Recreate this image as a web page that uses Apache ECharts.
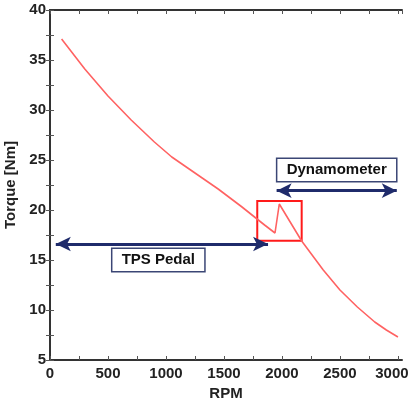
<!DOCTYPE html>
<html>
<head>
<meta charset="utf-8">
<script src="https://cdn.jsdelivr.net/npm/echarts@6/dist/echarts.min.js"></script>
<style>html,body{margin:0;padding:0;background:#fff}#c{width:412px;height:406px}</style>
</head>
<body>
<div id="c"></div>
<script>
// Data
const rpm    = [100, 300, 500, 700, 900, 1050, 1250, 1450, 1650, 1850, 1940, 1977, 2170, 2356, 2500, 2650, 2800, 2900, 3000];
const torque = [37.1, 34.1, 31.4, 29.0, 26.8, 25.3, 23.7, 22.1, 20.35, 18.5, 17.7, 20.6, 16.9, 14.0, 12.0, 10.3, 8.8, 8.0, 7.3];
const xTicks = [0, 500, 1000, 1500, 2000, 2500, 3000];
const yTicks = [5, 10, 15, 20, 25, 30, 35, 40];
// Annotations (data coordinates)
const highlightBox = { x: [1787, 2170], y: [16.93, 20.9] };
const tpsArrow = { x: [50, 1880], y: 16.6, label: 'TPS Pedal', box: { x: [532, 1336], y: [13.83, 16.17] } };
const dynoArrow = { x: [1954, 2990], y: 21.93, label: 'Dynamometer', box: { x: [1954, 2990], y: [22.83, 25.17] } };

const font = 'Liberation Sans, Arial, sans-serif';
const dark = '#222';
const navy = '#1f2b6b';
const axisCommon = {
  axisLine: { show: true, lineStyle: { color: '#333', width: 2 } },
  axisTick: { show: true, inside: true, length: 4, lineStyle: { color: '#555', width: 1 } },
  splitLine: { show: false }
};
const xBase = { type: 'value', min: 0, max: 3035, interval: 250 };
const yBase = { type: 'value', min: 5, max: 40, interval: 2.5 };

const chart = echarts.init(document.getElementById('c'));
chart.setOption({
  animation: false,
  backgroundColor: '#fff',
  grid: { left: 50, right: 10, top: 10, bottom: 46, containLabel: false, outerBoundsMode: 'none' },
  xAxis: [
    Object.assign({}, xBase, axisCommon, {
      position: 'bottom',
      name: 'RPM', nameLocation: 'middle', nameGap: 23,
      nameTextStyle: { fontFamily: font, fontWeight: 'bold', fontSize: 15, color: dark },
      axisLabel: { margin: 6, fontFamily: font, fontWeight: 'bold', fontSize: 15, color: dark, showMaxLabel: false,
        formatter: v => xTicks.indexOf(v) < 0 ? '' : (v === xTicks[xTicks.length - 1] ? '{r|' + v + '}' : String(v)),
        rich: { r: { fontFamily: font, fontWeight: 'bold', fontSize: 15, color: dark, padding: [0, 12, 0, 0] } } }
    }),
    Object.assign({}, xBase, axisCommon, { position: 'top', axisLabel: { show: false } })
  ],
  yAxis: [
    Object.assign({}, yBase, axisCommon, {
      position: 'left',
      name: 'Torque [Nm]', nameLocation: 'middle', nameGap: 25, nameRotate: 90,
      nameTextStyle: { fontFamily: font, fontWeight: 'bold', fontSize: 15, color: dark },
      axisLabel: { margin: 4, fontFamily: font, fontWeight: 'bold', fontSize: 15, color: dark,
        formatter: v => yTicks.indexOf(v) >= 0 ? String(v) : '' }
    }),
    Object.assign({}, yBase, axisCommon, { position: 'right', axisLabel: { show: false } })
  ],
  series: [
    {
      type: 'line',
      data: rpm.map((r, i) => [r, torque[i]]),
      showSymbol: false,
      lineStyle: { color: '#ff6262', width: 1.6 },
      markArea: {
        silent: true,
        itemStyle: { color: 'rgba(0,0,0,0)', borderColor: '#ff1a1a', borderWidth: 2 },
        data: [[{ coord: [highlightBox.x[0], highlightBox.y[1]] }, { coord: [highlightBox.x[1], highlightBox.y[0]] }]]
      },
      z: 3
    },
    {
      type: 'line',
      data: [],
      markArea: {
        silent: true,
        itemStyle: { color: '#fff', borderColor: '#3b4675', borderWidth: 1.5 },
        label: { show: true, position: 'inside', fontFamily: font, fontWeight: 'bold', fontSize: 15, color: '#111' },
        data: [
          [{ name: tpsArrow.label, coord: [tpsArrow.box.x[0], tpsArrow.box.y[1]] }, { coord: [tpsArrow.box.x[1], tpsArrow.box.y[0]] }],
          [{ name: dynoArrow.label, coord: [dynoArrow.box.x[0], dynoArrow.box.y[1]] }, { coord: [dynoArrow.box.x[1], dynoArrow.box.y[0]] }]
        ]
      },
      markLine: {
        silent: true,
        symbol: ['arrow', 'arrow'],
        symbolSize: [11, 15],
        label: { show: false },
        lineStyle: { color: navy, width: 3, type: 'solid' },
        data: [
          [{ coord: [tpsArrow.x[0], tpsArrow.y] }, { coord: [tpsArrow.x[1], tpsArrow.y] }],
          [{ coord: [dynoArrow.x[0], dynoArrow.y] }, { coord: [dynoArrow.x[1], dynoArrow.y] }]
        ]
      },
      z: 4
    }
  ]
});
</script>
</body>
</html>
